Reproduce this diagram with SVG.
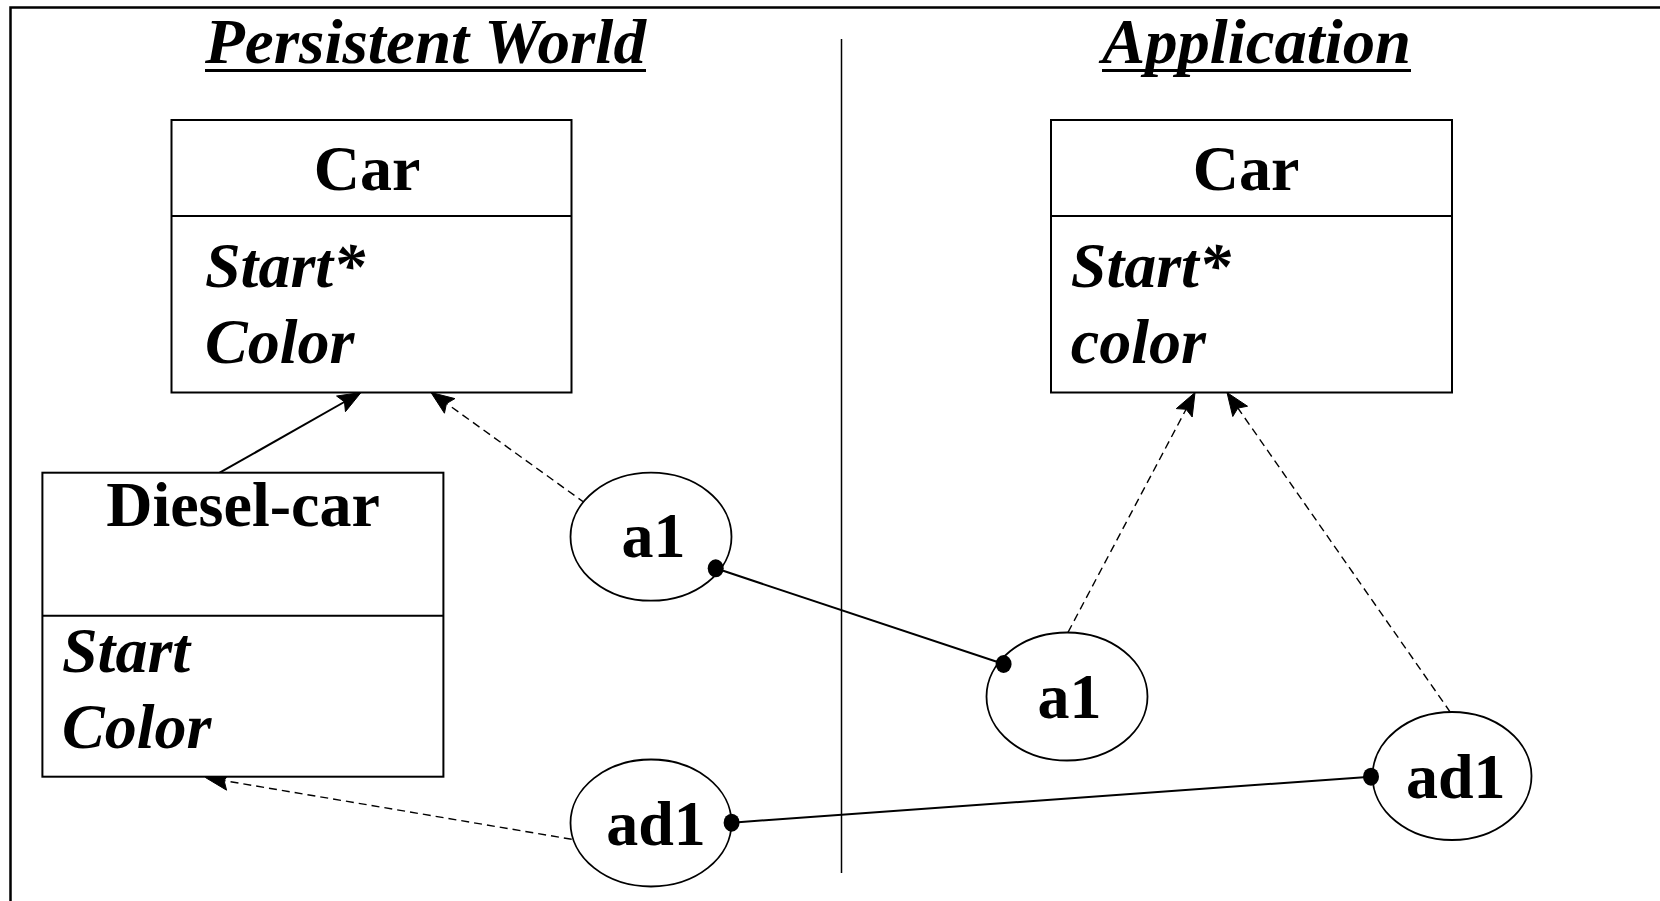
<svg xmlns="http://www.w3.org/2000/svg" width="1660" height="901" viewBox="0 0 1660 901">
  <style>
    .box { fill: #fff; stroke: #000; stroke-width: 2; }
    .sep { stroke: #000; stroke-width: 2; }
    .obj { fill: #fff; stroke: #000; stroke-width: 1.8; }
    .t { font-family: "Liberation Serif", "Times New Roman", serif; font-weight: bold; font-size: 64px; fill: #000; }
    .it { font-style: italic; }
    .mid { text-anchor: middle; }
    .solid { stroke: #000; stroke-width: 2; fill: none; }
    .dash { stroke: #000; stroke-width: 1.4; fill: none; stroke-dasharray: 8 5; }
    .head { fill: #000; stroke: #000; stroke-width: 1; stroke-linejoin: miter; }
    .pin { fill: #000; }
  </style>

  <rect width="1660" height="901" fill="#fff"/>

  <!-- frame and column divider -->
  <g id="frame">
    <path d="M10.5,901 L10.5,7.5 L1660,7.5" fill="none" stroke="#000" stroke-width="2.5"/>
    <line x1="841.5" y1="39" x2="841.5" y2="873" stroke="#000" stroke-width="1.5"/>
  </g>

  <!-- column headings -->
  <g id="heading-persistent">
    <text class="t it" x="205" y="63" textLength="441" lengthAdjust="spacingAndGlyphs">Persistent World</text>
    <line x1="205" y1="70.5" x2="646" y2="70.5" stroke="#000" stroke-width="3"/>
  </g>
  <g id="heading-application">
    <text class="t it" x="1102" y="63" textLength="309" lengthAdjust="spacingAndGlyphs">Application</text>
    <line x1="1102" y1="70.5" x2="1411" y2="70.5" stroke="#000" stroke-width="3"/>
  </g>

  <!-- connectors: lines, then filled arrowheads at the tips -->
  <g id="connectors">
    <line class="solid" x1="219.7" y1="472.7" x2="346" y2="401"/>
    <line class="dash" x1="585" y1="503" x2="446" y2="403"/>
    <line class="dash" x1="1068" y1="632.3" x2="1186.5" y2="408.5"/>
    <line class="dash" x1="1450.4" y1="712.3" x2="1237.5" y2="407.5"/>
    <line class="dash" x1="571.7" y1="839.3" x2="224" y2="780.6"/>
    <line class="solid" x1="715.7" y1="568.3" x2="1003.6" y2="664"/>
    <line class="solid" x1="731.6" y1="822.7" x2="1371" y2="776.7"/>

    <path class="head" d="M361,392.5 L345.44,411.68 L344.48,401.88 L336.56,396.02 Z"/>
    <path class="head" d="M431,392.5 L454.94,398.6 L446.44,403.58 L444.44,413.22 Z"/>
    <path class="head" d="M1195,392.5 L1192.19,417.03 L1186.11,409.29 L1176.29,408.61 Z"/>
    <path class="head" d="M1227,392.5 L1247.55,406.21 L1237.88,408.08 L1232.79,416.51 Z"/>
    <path class="head" d="M205.4,777.5 L229.58,772.46 L224.13,780.66 L226.58,790.2 Z"/>
  </g>

  <!-- persistent world classes -->
  <g id="pw-car">
    <rect class="box" x="171.5" y="120" width="400" height="272.5"/>
    <line class="sep" x1="171.5" y1="216" x2="571.5" y2="216"/>
    <text class="t mid" x="367" y="190">Car</text>
    <text class="t it" x="205" y="287">Start*</text>
    <text class="t it" x="205" y="363">Color</text>
  </g>
  <g id="pw-diesel-car">
    <rect class="box" x="42.4" y="472.7" width="401" height="304"/>
    <line class="sep" x1="42.4" y1="615.7" x2="443.4" y2="615.7"/>
    <text class="t mid" x="243" y="526">Diesel-car</text>
    <text class="t it" x="62" y="671.7">Start</text>
    <text class="t it" x="62" y="748">Color</text>
  </g>

  <!-- application class -->
  <g id="app-car">
    <rect class="box" x="1051" y="120" width="401" height="272.5"/>
    <line class="sep" x1="1051" y1="216" x2="1452" y2="216"/>
    <text class="t mid" x="1246" y="190">Car</text>
    <text class="t it" x="1070.8" y="287">Start*</text>
    <text class="t it" x="1070.8" y="363">color</text>
  </g>

  <!-- object instances -->
  <g id="pw-a1">
    <ellipse class="obj" cx="651" cy="536.7" rx="80.5" ry="64"/>
    <text class="t mid" x="653.5" y="557">a1</text>
  </g>
  <g id="pw-ad1">
    <ellipse class="obj" cx="651" cy="823" rx="80.5" ry="63.5"/>
    <text class="t mid" x="656" y="845">ad1</text>
  </g>
  <g id="app-a1">
    <ellipse class="obj" cx="1067" cy="696.5" rx="80.5" ry="64"/>
    <text class="t mid" x="1069.5" y="718">a1</text>
  </g>
  <g id="app-ad1">
    <ellipse class="obj" cx="1452" cy="776" rx="79.5" ry="64"/>
    <text class="t mid" x="1455.7" y="798">ad1</text>
  </g>

  <!-- connector end dots drawn above the ellipse outlines -->
  <g id="connector-dots">
    <ellipse class="pin" cx="715.7" cy="568.3" rx="8" ry="9"/>
    <ellipse class="pin" cx="1003.6" cy="664" rx="8" ry="9"/>
    <ellipse class="pin" cx="731.6" cy="822.7" rx="8" ry="9"/>
    <ellipse class="pin" cx="1371" cy="776.7" rx="8" ry="9"/>
  </g>
</svg>
